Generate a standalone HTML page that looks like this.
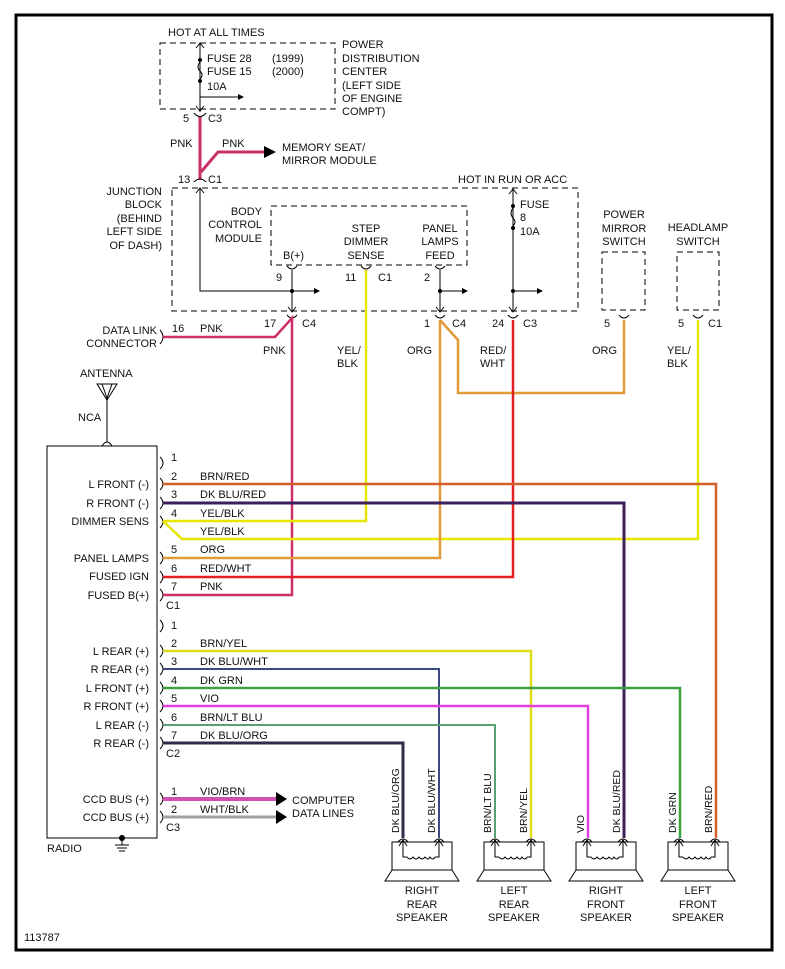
<!DOCTYPE html>
<html><head><meta charset="utf-8"><style>
html,body{margin:0;padding:0;background:#fff;}
svg{display:block;font-family:"Liberation Sans",sans-serif;font-size:11px;}
text{fill:#111;}
</style></head><body>
<svg width="785" height="969" viewBox="0 0 785 969" xmlns="http://www.w3.org/2000/svg">
<rect x="0" y="0" width="785" height="969" fill="#fff"/>
<rect x="16" y="15" width="756" height="935" fill="none" stroke="#000" stroke-width="3"/>

<!-- PDC -->
<text x="168" y="36">HOT AT ALL TIMES</text>
<rect x="160" y="43" width="175" height="66" fill="none" stroke="#000" stroke-dasharray="6,4"/>
<g fill="none" stroke="#000">
<path d="M200 43 V112"/>
<path d="M196 48 L200 43 L204 48"/>
<path d="M200 97 H238"/>
<path d="M196 106 L200 111 L204 106"/>
<path d="M194 113 Q200 120 206 113"/>
</g>
<path d="M238 94 L244 97 L238 100Z" fill="#000"/>
<circle cx="200" cy="60" r="2" fill="#000"/><circle cx="200" cy="81" r="2" fill="#000"/>
<path d="M200 62 Q196 67 200 71 Q204 75 200 79" fill="none" stroke="#000"/>
<text x="207" y="62">FUSE 28</text><text x="272" y="62">(1999)</text>
<text x="207" y="75">FUSE 15</text><text x="272" y="75">(2000)</text>
<text x="207" y="90">10A</text>
<text x="342" y="48">POWER</text><text x="342" y="62">DISTRIBUTION</text><text x="342" y="75">CENTER</text>
<text x="342" y="89">(LEFT SIDE</text><text x="342" y="102">OF ENGINE</text><text x="342" y="115">COMPT)</text>
<text x="183" y="122">5</text><text x="208" y="122">C3</text>

<!-- PNK top -->
<path d="M200 117 V180" stroke="#c8306a" stroke-width="3" fill="none"/>
<path d="M201 172 L218 152 H265" stroke="#c8306a" stroke-width="3" fill="none"/>
<path d="M264 146 L276 152 L264 158Z" fill="#000"/>
<text x="170" y="147">PNK</text><text x="222" y="147">PNK</text>
<text x="282" y="151">MEMORY SEAT/</text><text x="282" y="164">MIRROR MODULE</text>
<text x="178" y="183">13</text><text x="208" y="183">C1</text>
<path d="M194 182 Q200 176 206 182" fill="none" stroke="#000"/>

<!-- junction block -->
<text x="458" y="183">HOT IN RUN OR ACC</text>
<rect x="172" y="188" width="406" height="123" fill="none" stroke="#000" stroke-dasharray="6,4"/>
<g text-anchor="end">
<text x="162" y="195">JUNCTION</text><text x="162" y="208">BLOCK</text><text x="162" y="222">(BEHIND</text><text x="162" y="235">LEFT SIDE</text><text x="162" y="249">OF DASH)</text>
<text x="262" y="215">BODY</text><text x="262" y="228">CONTROL</text><text x="262" y="242">MODULE</text>
</g>
<rect x="271" y="206" width="196" height="59" fill="none" stroke="#000" stroke-dasharray="6,4"/>
<g text-anchor="middle">
<text x="366" y="232">STEP</text><text x="366" y="245">DIMMER</text><text x="366" y="259">SENSE</text>
<text x="440" y="232">PANEL</text><text x="440" y="245">LAMPS</text><text x="440" y="259">FEED</text>
<text x="624" y="218">POWER</text><text x="624" y="232">MIRROR</text><text x="624" y="245">SWITCH</text>
<text x="698" y="231">HEADLAMP</text><text x="698" y="245">SWITCH</text>
</g>
<text x="283" y="259">B(+)</text>
<g fill="none" stroke="#000">
<path d="M200 188 V291 H314"/><path d="M196 193 L200 188 L204 193"/>
<path d="M287 266 Q292 272 297 266"/><path d="M292 270 V312"/>
<path d="M361 266 Q366 272 371 266"/>
<path d="M435 266 Q440 272 445 266"/><path d="M440 270 V312 M440 291 H462"/>
<path d="M513 189 V312 M513 291 H537"/><path d="M509 194 L513 189 L517 194"/>
<path d="M513 208 Q509 213 513 218 Q517 222 513 226"/>
<path d="M288 307 L292 312 L296 307 M436 307 L440 312 L444 307 M509 307 L513 312 L517 307"/>
<path d="M287 315 Q292 321 297 315 M435 315 Q440 321 445 315 M508 315 Q513 321 518 315 M619 315 Q624 321 629 315 M693 315 Q698 321 703 315"/>
</g>
<g fill="#000">
<path d="M314 288 L320 291 L314 294Z"/><path d="M462 288 L468 291 L462 294Z"/><path d="M537 288 L543 291 L537 294Z"/>
<circle cx="292" cy="291" r="2"/><circle cx="440" cy="291" r="2"/><circle cx="513" cy="291" r="2"/>
<circle cx="513" cy="206" r="2"/><circle cx="513" cy="228" r="2"/>
</g>
<text x="520" y="208">FUSE</text><text x="520" y="221">8</text><text x="520" y="235">10A</text>
<text x="276" y="281">9</text><text x="345" y="281">11</text><text x="378" y="281">C1</text><text x="424" y="281">2</text>
<rect x="602" y="252" width="43" height="58" fill="none" stroke="#000" stroke-dasharray="6,4"/>
<rect x="677" y="252" width="42" height="58" fill="none" stroke="#000" stroke-dasharray="6,4"/>
<text x="264" y="327">17</text><text x="302" y="327">C4</text>
<text x="424" y="327">1</text><text x="452" y="327">C4</text>
<text x="492" y="327">24</text><text x="523" y="327">C3</text>
<text x="604" y="327">5</text><text x="678" y="327">5</text><text x="708" y="327">C1</text>

<text x="157" y="334" text-anchor="end">DATA LINK</text><text x="157" y="347" text-anchor="end">CONNECTOR</text>
<text x="172" y="332">16</text><text x="200" y="332">PNK</text>
<path d="M160 330 Q166 337 160 344" fill="none" stroke="#000"/>
<text x="263" y="354">PNK</text><text x="337" y="354">YEL/</text><text x="337" y="367">BLK</text>
<text x="407" y="354">ORG</text><text x="480" y="354">RED/</text><text x="480" y="367">WHT</text>
<text x="592" y="354">ORG</text><text x="667" y="354">YEL/</text><text x="667" y="367">BLK</text>

<!-- antenna & radio -->
<text x="80" y="377">ANTENNA</text>
<path d="M97 384 H117 L107 400Z M102 384 L107 398 L112 384" fill="none" stroke="#000"/>
<path d="M107 398 V442" stroke="#000" fill="none"/>
<text x="78" y="421">NCA</text>
<path d="M102 446 Q107 438 112 446" fill="none" stroke="#000"/>
<rect x="47" y="446" width="110" height="392" fill="none" stroke="#000"/>
<text x="47" y="852">RADIO</text>
<circle cx="122" cy="838" r="3" fill="#000"/>
<path d="M122 840 V845 M115 845 H129 M117 848 H127 M119 851 H125" stroke="#000" fill="none"/>

<g text-anchor="end">
<text x="149" y="488">L FRONT (-)</text><text x="149" y="507">R FRONT (-)</text><text x="149" y="525">DIMMER SENS</text>
<text x="149" y="562">PANEL LAMPS</text><text x="149" y="580">FUSED IGN</text><text x="149" y="599">FUSED B(+)</text>
<text x="149" y="655">L REAR (+)</text><text x="149" y="673">R REAR (+)</text><text x="149" y="692">L FRONT (+)</text>
<text x="149" y="710">R FRONT (+)</text><text x="149" y="729">L REAR (-)</text><text x="149" y="747">R REAR (-)</text>
<text x="149" y="803">CCD BUS (+)</text><text x="149" y="821">CCD BUS (+)</text>
</g>
<g>
<text x="171" y="461">1</text><text x="171" y="480">2</text><text x="171" y="498">3</text><text x="171" y="517">4</text>
<text x="171" y="553">5</text><text x="171" y="572">6</text><text x="171" y="590">7</text><text x="166" y="609">C1</text>
<text x="171" y="629">1</text><text x="171" y="647">2</text><text x="171" y="665">3</text><text x="171" y="684">4</text>
<text x="171" y="702">5</text><text x="171" y="721">6</text><text x="171" y="739">7</text><text x="166" y="757">C2</text>
<text x="171" y="795">1</text><text x="171" y="813">2</text><text x="166" y="831">C3</text>
<text x="200" y="480">BRN/RED</text><text x="200" y="498">DK BLU/RED</text><text x="200" y="517">YEL/BLK</text><text x="200" y="535">YEL/BLK</text>
<text x="200" y="553">ORG</text><text x="200" y="572">RED/WHT</text><text x="200" y="590">PNK</text>
<text x="200" y="647">BRN/YEL</text><text x="200" y="665">DK BLU/WHT</text><text x="200" y="684">DK GRN</text>
<text x="200" y="702">VIO</text><text x="200" y="721">BRN/LT BLU</text><text x="200" y="739">DK BLU/ORG</text>
<text x="200" y="795">VIO/BRN</text><text x="200" y="813">WHT/BLK</text>
</g>
<g fill="none" stroke="#000">
<path d="M160 457 Q166 463 160 469 M160 478 Q166 484 160 490 M160 497 Q166 503 160 509 M160 516 Q166 522 160 528 M160 552 Q166 558 160 564 M160 571 Q166 577 160 583 M160 589 Q166 595 160 601"/>
<path d="M160 620 Q166 626 160 632 M160 645 Q166 651 160 657 M160 663 Q166 669 160 675 M160 682 Q166 688 160 694 M160 700 Q166 706 160 712 M160 719 Q166 725 160 731 M160 737 Q166 743 160 749"/>
<path d="M160 793 Q166 799 160 805 M160 811 Q166 817 160 823"/>
</g>

<!-- colored wires -->
<g fill="none" stroke-width="2.5" stroke-linejoin="miter">
<path d="M163 337 H275 L292 318 V595 H163" stroke="#cc2f6a"/>
<path d="M366 270 V521 H163" stroke="#e6e600"/>
<path d="M698 320 V539 H182 L163 521" stroke="#e6e600"/>
<path d="M440 320 V558 H163" stroke="#e09a3a"/>
<path d="M440 320 L458 340 V393 H624 V320" stroke="#e09a3a"/>
<path d="M513 320 V577 H163" stroke="#e42020"/>
<path d="M163 484 H716 V838" stroke="#d2602a"/>
<path d="M163 503 H624 V838" stroke="#3e1f5e" stroke-width="3"/>
<path d="M163 651 H531 V838" stroke="#e0dc20"/>
<path d="M163 669 H439 V838" stroke="#3a4a80" stroke-width="2"/>
<path d="M163 688 H680 V838" stroke="#3aa040"/>
<path d="M163 706 H588 V838" stroke="#e040e0"/>
<path d="M163 725 H495 V838" stroke="#5aa070" stroke-width="2"/>
<path d="M163 743 H403 V838" stroke="#2e2e48" stroke-width="3"/>
<path d="M163 799 H280" stroke="#d050b0" stroke-width="4"/>
<path d="M163 817 H280" stroke="#a0a0a0" stroke-width="3"/>
</g>
<path d="M276 792 L287 799 L276 806Z M276 810 L287 817 L276 824Z" fill="#000"/>
<text x="292" y="804">COMPUTER</text><text x="292" y="817">DATA LINES</text>

<!-- speakers -->
<g id="spk" fill="none" stroke="#000">
<rect x="392" y="842" width="60" height="28"/>
<path d="M392 870 L385 881 H459 L452 870"/>
<path d="M398 842 Q403 836 408 842 M434 842 Q439 836 444 842"/>
<path d="M403 840 V857 H407 M439 840 V857 H435 M399 846 L403 840 L407 846 M435 846 L439 840 L443 846"/>
<path d="M407 857 q3 4 6 0 q3 4 6 0 q3 4 6 0 q3 4 5 0 q3 4 5 0"/>
</g>
<use href="#spk" x="92"/><use href="#spk" x="184"/><use href="#spk" x="276"/>
<g text-anchor="middle">
<text x="422" y="894">RIGHT</text><text x="422" y="908">REAR</text><text x="422" y="921">SPEAKER</text>
<text x="514" y="894">LEFT</text><text x="514" y="908">REAR</text><text x="514" y="921">SPEAKER</text>
<text x="606" y="894">RIGHT</text><text x="606" y="908">FRONT</text><text x="606" y="921">SPEAKER</text>
<text x="698" y="894">LEFT</text><text x="698" y="908">FRONT</text><text x="698" y="921">SPEAKER</text>
</g>
<g font-size="10.5">
<text transform="translate(399 833) rotate(-90)">DK BLU/ORG</text>
<text transform="translate(435 833) rotate(-90)">DK BLU/WHT</text>
<text transform="translate(491 833) rotate(-90)">BRN/LT BLU</text>
<text transform="translate(527 833) rotate(-90)">BRN/YEL</text>
<text transform="translate(584 833) rotate(-90)">VIO</text>
<text transform="translate(620 833) rotate(-90)">DK BLU/RED</text>
<text transform="translate(676 833) rotate(-90)">DK GRN</text>
<text transform="translate(712 833) rotate(-90)">BRN/RED</text>
</g>
<text x="24" y="941">113787</text>
</svg>
</body></html>
